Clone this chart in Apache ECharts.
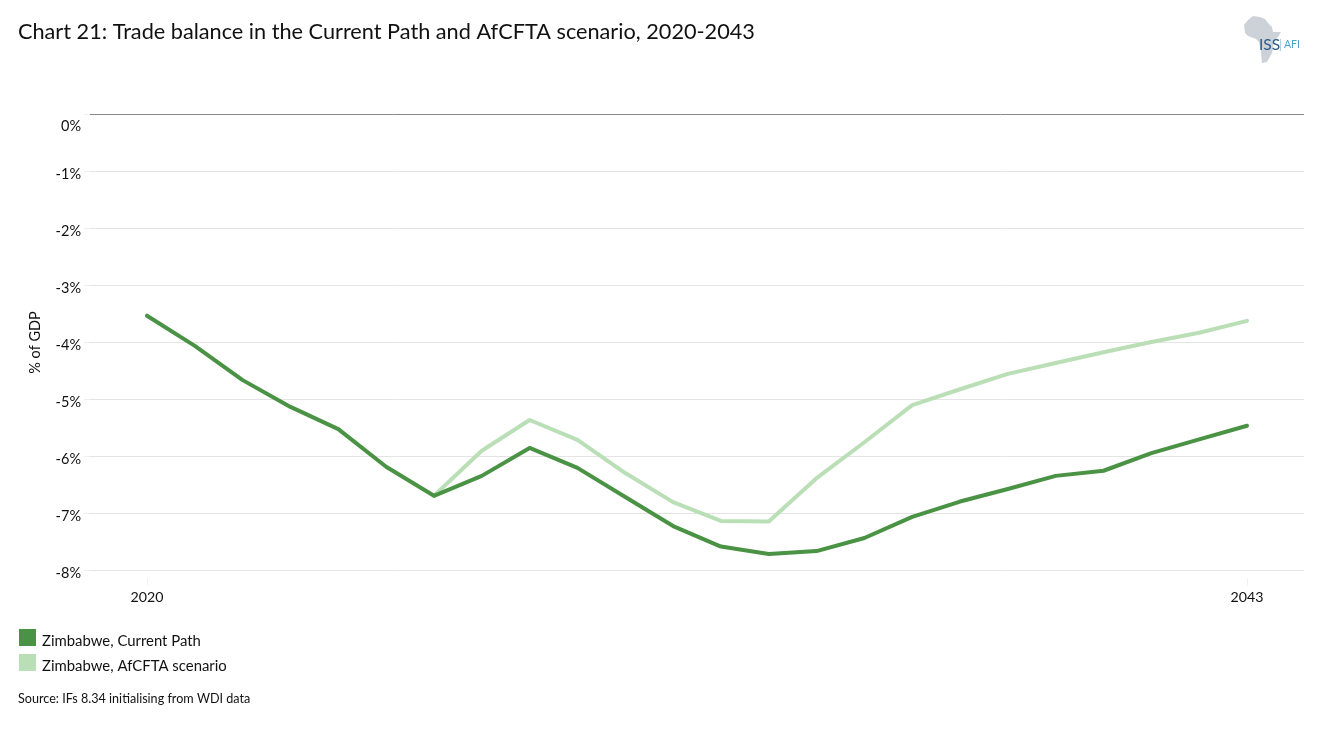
<!DOCTYPE html>
<html>
<head>
<meta charset="utf-8">
<style>html,body{margin:0;padding:0;background:#fff}#c{width:1318px;height:729px}</style>
<script src="https://cdn.jsdelivr.net/npm/echarts@6/dist/echarts.min.js"></script>
</head>
<body>
<div id="c"></div>
<script>
const years = [2020,2021,2022,2023,2024,2025,2026,2027,2028,2029,2030,2031,2032,2033,2034,2035,2036,2037,2038,2039,2040,2041,2042,2043];
const currentPath = [-3.53,-4.06,-4.66,-5.13,-5.52,-6.18,-6.69,-6.34,-5.85,-6.20,-6.71,-7.22,-7.58,-7.71,-7.66,-7.43,-7.06,-6.79,-6.57,-6.34,-6.25,-5.94,-5.70,-5.46];
const afcfta = [null,null,null,null,null,null,-6.69,-5.90,-5.36,-5.71,-6.29,-6.80,-7.13,-7.14,-6.38,-5.75,-5.10,-4.82,-4.55,-4.36,-4.17,-3.99,-3.83,-3.62];
const xTickLabels = [2020,2043];
const titleText = 'Chart 21: Trade balance in the Current Path and AfCFTA scenario, 2020-2043';
const sourceText = 'Source: IFs 8.34 initialising from WDI data';
const nameCurrent = 'Zimbabwe, Current Path';
const nameAfcfta = 'Zimbabwe, AfCFTA scenario';
const FONT = 'Lato, Carlito, "Open Sans", sans-serif';
const chart = echarts.init(document.getElementById('c'));
chart.setOption({
  animation:false,
  backgroundColor:'#fff',
  textStyle:{fontFamily:FONT},
  title:{text:titleText,left:18,top:21,padding:0,textStyle:{fontFamily:FONT,fontSize:21.7,fontWeight:'normal',color:'#111'}},
  legend:{
    orient:'vertical',left:19,top:629,padding:0,itemWidth:17,itemHeight:17,itemGap:5,icon:'rect',
    data:[nameCurrent,nameAfcfta],
    formatter:n=>'{a|'+n+'}',
    textStyle:{fontFamily:FONT,fontSize:14.9,color:'#111',rich:{a:{fontFamily:FONT,fontSize:14.9,color:'#111',padding:[8,0,0,1]}}}
  },
  grid:{left:90,right:14,top:114.5,height:456,containLabel:false},
  xAxis:{
    type:'value',position:'bottom',offset:8,min:2020-57/47.83,max:2043+57/47.83,
    splitLine:{show:false},
    axisLine:{show:false,onZero:false},
    axisTick:{show:true,customValues:xTickLabels,length:7,lineStyle:{color:'#f0f0f0'}},
    axisLabel:{customValues:xTickLabels,formatter:v=>String(Math.round(v)),fontSize:14.2,color:'#111',margin:12,hideOverlap:false,showMinLabel:true,showMaxLabel:true}
  },
  yAxis:{
    type:'value',min:-8,max:0,interval:1,
    name:'% of GDP',nameLocation:'middle',nameRotate:90,nameGap:47,nameTextStyle:{fontFamily:FONT,fontSize:14.5,color:'#111'},
    axisLine:{show:false},
    axisTick:{show:true,length:6,lineStyle:{color:'#eeeeee'}},
    splitLine:{show:true,lineStyle:{color:'#e4e4e4',width:1}},
    axisLabel:{
      margin:9,fontSize:14.5,color:'#111',
      formatter:v=>v===0?'{z|0%}':'{n|'+v+'%}',
      rich:{z:{fontFamily:FONT,fontSize:14.5,color:'#111',padding:[24,0,0,0]},n:{fontFamily:FONT,fontSize:14.5,color:'#111',padding:[5,0,0,0]}}
    }
  },
  series:[
    {name:nameAfcfta,type:'line',z:2,symbol:'none',color:'#badfb7',lineStyle:{color:'#badfb7',width:4,cap:'round',join:'round'},connectNulls:false,
     data:years.map((y,i)=>[y,afcfta[i]])},
    {name:nameCurrent,type:'line',z:3,symbol:'none',color:'#4a9244',lineStyle:{color:'#4a9244',width:4,cap:'round',join:'round'},
     data:years.map((y,i)=>[y,currentPath[i]])},
    {type:'line',z:4,silent:true,symbol:'none',data:[],markLine:{silent:true,symbol:'none',label:{show:false},lineStyle:{color:'#888888',width:1,type:'solid'},data:[{yAxis:0}]}}
  ],
  graphic:[
    {type:'text',left:18,top:692,style:{text:sourceText,fontFamily:FONT,fontSize:12.6,fill:'#111'}},
    {type:'polygon',shape:{points:[[1253,16],[1260,17],[1265,19],[1268,23],[1272,27],[1273,32],[1281,32],[1278,37],[1274,42],[1273,48],[1272,53],[1267,62],[1262,63],[1261,52],[1259,42],[1256,39],[1248,36],[1245,33],[1244,25],[1248,20]]},style:{fill:'#cdd2d9'}},
    {type:'text',left:1259,top:37,style:{text:'ISS',fontFamily:'Lato',fontSize:15.5,fill:'#2f5a85'}},
    {type:'rect',shape:{x:1280,y:39,width:0.8,height:12},style:{fill:'#9cc7e0'}},
    {type:'text',left:1284,top:39,style:{text:'AFI',fontFamily:'Lato',fontSize:10.5,fill:'#4f9fd0'}}
  ]
});
</script>
</body>
</html>
